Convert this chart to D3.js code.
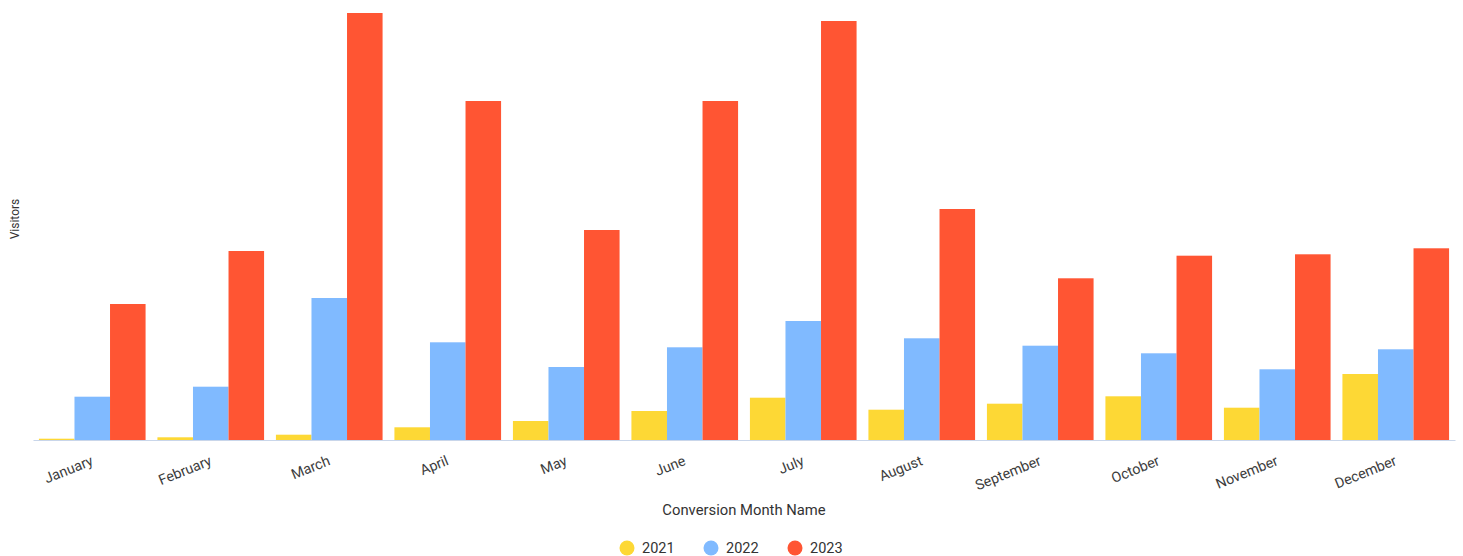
<!DOCTYPE html>
<html>
<head>
<meta charset="utf-8">
<script src="https://cdn.jsdelivr.net/npm/d3@7"></script>
<style>
  body { margin: 0; background: #fff; }
  text { font-family: Roboto, "Noto Sans", sans-serif; }
</style>
</head>
<body>
<svg id="chart" width="1463" height="556"></svg>
<script>

// months on the x axis
var months = [ 'January', 'February', 'March', 'April', 'May', 'June',
               'July', 'August', 'September', 'October', 'November', 'December' ];

// series, one per year (visitors)
var years = [ '2021', '2022', '2023' ];

var visitors2021 = [ 1.3, 2.7, 5.3, 12.7, 19, 29, 42.3, 30.3, 36.3, 43.7, 32.3, 66 ];
var visitors2022 = [ 43.3, 53.3, 142, 97.7, 73, 92.7, 119, 101.7, 94.3, 86.7, 70.7, 90.7 ];
var visitors2023 = [ 136, 189, 427, 339, 210, 339, 419, 231, 161.7, 184.3, 185.7, 191.7 ];

var colors = [ '#fdd835', '#80baff', '#ff5533' ];

var series = [ visitors2021, visitors2022, visitors2023 ];

(function () {

    var svg = d3.select('#chart');

    var plotLeft = 33,
        plotRight = 1455,
        plotTop = 13,
        plotBottom = 440;

    var x0 = d3.scaleBand()
        .domain( months )
        .range([ plotLeft, plotRight ])
        .paddingInner( 0.1 )
        .paddingOuter( 0.05 );

    var x1 = d3.scaleBand()
        .domain( years )
        .range([ 0, x0.bandwidth() ]);

    var y = d3.scaleLinear()
        .domain([ 0, d3.max( visitors2023 ) ])
        .range([ plotBottom, plotTop ]);

    // bars
    var groups = svg.append('g')
        .selectAll('g')
        .data( months )
        .enter().append('g')
        .attr('transform', function ( d ) { return 'translate(' + x0( d ) + ',0)'; });

    groups.selectAll('rect')
        .data( function ( d, i ) {

            return years.map( function ( yr, j ) {
                return { year: yr, value: series[ j ][ i ], color: colors[ j ] };
            });

        })
        .enter().append('rect')
        .attr('x', function ( d ) { return x1( d.year ); })
        .attr('y', function ( d ) { return y( d.value ); })
        .attr('width', x1.bandwidth())
        .attr('height', function ( d ) { return plotBottom - y( d.value ); })
        .attr('fill', function ( d ) { return d.color; });

    // x axis
    var xAxis = svg.append('g')
        .attr('transform', 'translate(0,' + plotBottom + ')')
        .call( d3.axisBottom( x0 ).tickSize( 0 ).tickPadding( 0 ) );

    xAxis.select('.domain')
        .attr('stroke', '#c9d6ea')
        .attr('stroke-width', 1.2);

    xAxis.selectAll('.tick text')
        .attr('fill', '#3c3c3c')
        .style('font-size', '14.3px')
        .attr('text-anchor', 'end')
        .attr('y', 0)
        .attr('dy', '0.71em')
        .attr('transform', 'translate(-2,15) rotate(-22)');

    // axis titles
    svg.append('text')
        .attr('x', ( plotLeft + plotRight ) / 2)
        .attr('y', 515)
        .attr('text-anchor', 'middle')
        .attr('fill', '#333')
        .style('font-size', '14.8px')
        .text('Conversion Month Name');

    svg.append('text')
        .attr('transform', 'translate(19,219) rotate(-90)')
        .attr('text-anchor', 'middle')
        .attr('fill', '#333')
        .style('font-size', '12px')
        .text('Visitors');

    // legend
    var legendX = [ 627, 711, 795 ];

    var legend = svg.append('g')
        .selectAll('g')
        .data( years )
        .enter().append('g')
        .attr('transform', function ( d, i ) { return 'translate(' + legendX[ i ] + ',548)'; });

    legend.append('circle')
        .attr('r', 7.5)
        .attr('fill', function ( d, i ) { return colors[ i ]; });

    legend.append('text')
        .attr('x', 15)
        .attr('dy', '0.36em')
        .attr('fill', '#333')
        .style('font-size', '14.5px')
        .text( function ( d ) { return d; });

})();

</script>
</body>
</html>
